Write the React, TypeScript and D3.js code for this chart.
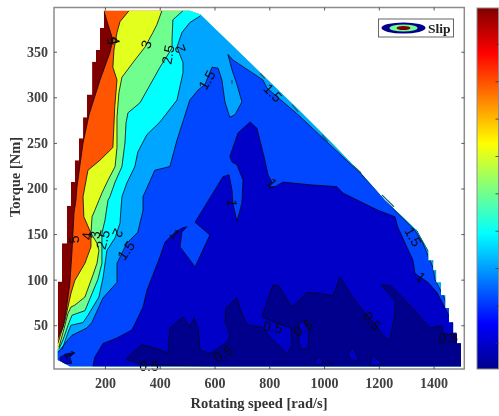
import React, { useEffect, useRef } from "react";
import * as d3 from "d3";

type Pt = [number, number];

const speedTicks = [200, 400, 600, 800, 1000, 1200, 1400];
const torqueTicks = [50, 100, 150, 200, 250, 300, 350];
const colorbarTicks = [0.5, 1, 1.5, 2, 2.5, 3, 3.5, 4, 4.5];

// operating region [rad/s, Nm]
const envelope: Pt[] = [
  [196, 395], [196, 376], [182, 376], [182, 352], [167, 352], [167, 339], [153, 339], [153, 303],
  [134, 303], [134, 278], [120, 278], [120, 255], [105, 255], [105, 231], [90, 231], [90, 207],
  [76, 207], [76, 181], [61, 181], [61, 140], [43, 140], [43, 98], [28, 98], [28, 12], [72, 5],
  [1500, 5], [1500, 30], [1485, 30], [1485, 41], [1471, 41], [1471, 53], [1456, 53], [1456, 69],
  [1442, 69], [1442, 83], [1427, 83], [1427, 97], [1409, 97], [1409, 110], [1398, 110], [1398, 121],
  [1380, 121], [1380, 132], [1339, 154], [1222, 187], [1131, 218], [1011, 255], [901, 288], [784, 322],
  [730, 338], [547, 391], [510, 395],
];

// iso-slip lines [rad/s, Nm]
const slip5: Pt[] = [
  [196, 395], [211, 380], [229, 363], [218, 349], [182, 319], [142, 281], [120, 250], [98, 202], [94, 187],
  [87, 173], [80, 132], [72, 96], [58, 66], [47, 48], [28, 36],
];
const slip4: Pt[] = [
  [288, 395], [255, 383], [244, 371], [233, 352], [229, 333], [244, 319], [236, 290], [229, 245], [182, 231],
  [138, 220], [120, 191], [123, 169], [149, 151], [149, 136], [127, 118], [90, 99], [76, 85], [65, 70],
  [54, 55], [28, 30],
];
const slip3: Pt[] = [
  [408, 395], [390, 380], [375, 371], [346, 355], [302, 338], [262, 322], [251, 305], [244, 278], [244, 245],
  [237, 224], [211, 209], [189, 195], [178, 187], [163, 176], [153, 169], [149, 151], [171, 140], [178, 132],
  [171, 118], [156, 105], [127, 81], [90, 72], [76, 70], [65, 63], [47, 42], [32, 26],
];
const slip25: Pt[] = [
  [485, 395], [448, 385], [445, 363], [445, 354], [401, 333], [328, 294], [284, 283], [277, 272], [273, 250],
  [262, 224], [237, 207], [218, 191], [211, 187], [200, 165], [189, 151], [189, 118], [174, 100], [127, 66],
  [80, 61], [69, 53], [47, 34], [32, 24],
];
const slip2: Pt[] = [
  [547, 389], [510, 382], [481, 371], [463, 355], [485, 338], [485, 327], [463, 297], [401, 273], [353, 259],
  [320, 240], [309, 224], [280, 206], [262, 191], [258, 176], [255, 162], [237, 146], [207, 132], [193, 102],
  [178, 81], [138, 61], [120, 53], [76, 50], [65, 42], [43, 23],
];
const slip15: Pt[] = [
  [28, 20], [65, 34], [80, 39], [134, 47], [152, 53], [193, 80], [226, 91], [244, 97], [244, 118], [280, 140],
  [320, 152], [339, 176], [339, 191], [382, 220], [437, 224], [463, 253], [510, 297], [540, 308], [565, 314],
  [591, 333], [613, 332], [627, 319], [638, 295], [656, 278], [675, 281], [700, 295], [682, 314], [664, 330],
  [649, 347], [667, 341], [777, 319], [792, 310], [905, 281], [1014, 250], [1138, 215], [1259, 176], [1332, 154],
  [1361, 140], [1398, 113], [1405, 100], [1438, 81], [1445, 75],
];
const slip1: Pt[] = [
  [156, 5], [163, 15], [193, 30], [244, 36], [299, 45], [339, 70], [353, 88], [401, 125], [419, 141], [456, 152],
  [485, 157], [499, 158], [481, 152], [474, 136], [529, 114], [583, 149], [529, 163], [631, 213], [653, 215],
  [664, 198], [667, 184], [682, 164], [700, 184], [704, 209], [682, 226], [664, 229], [656, 235], [686, 261],
  [730, 273], [755, 266], [784, 231], [795, 215], [810, 207], [799, 202], [821, 202], [850, 207], [949, 204],
  [1047, 202], [1069, 195], [1197, 176], [1259, 169], [1270, 157], [1325, 121], [1332, 107], [1350, 103],
  [1380, 97], [1412, 86], [1452, 63], [1471, 52], [1485, 42],
];
const slip05: Pt[] = [
  [565, 5], [328, 7], [277, 13], [335, 29], [401, 23], [430, 19], [437, 47], [485, 59], [510, 48], [525, 58],
  [540, 47], [547, 23], [583, 19], [646, 31], [656, 39], [638, 55], [642, 69], [682, 80], [704, 59], [722, 50],
  [748, 49], [773, 48], [802, 37], [865, 19], [883, 28], [879, 47], [839, 51], [773, 59], [813, 94], [832, 94],
  [883, 70], [938, 86], [985, 85], [1033, 82], [1058, 103], [1106, 80], [1142, 66], [1197, 47], [1222, 36],
  [1241, 34], [1259, 63], [1259, 77], [1208, 94], [1241, 94], [1288, 80], [1332, 66], [1387, 47], [1431, 50],
  [1434, 41], [1485, 39], [1500, 28],
];

// small closed patches
const rim2: Pt[] = [[1339, 154], [1360, 143], [1380, 132], [1398, 121], [1409, 110], [1400, 123], [1380, 137], [1360, 147]];
const pocket1: Pt[] = [[36, 15], [61, 19], [90, 20], [72, 15], [79, 8], [54, 8], [36, 12]];
const islands05: Pt[][] = [
  [[908, 52], [930, 55], [945, 45], [941, 25], [919, 23], [908, 31]],
  [[1087, 19], [1106, 26], [1124, 14], [1120, 10], [1095, 13]],
  [[1168, 8], [1179, 17], [1211, 8], [1193, 6], [1168, 6]],
  [[967, 9], [978, 15], [996, 12], [992, 7], [970, 7]],
  [[1003, 8], [1014, 10], [1032, 8], [1014, 7]],
];
const rimTicks: Pt[][] = [
  [[766, 326], [784, 321]],
  [[883, 292], [905, 284]],
  [[992, 259], [1014, 251]],
  [[1106, 225], [1135, 217]],
  [[1211, 193], [1255, 180]],
];
const tongueMark: Pt[] = [[664, 319], [664, 315]];

// contour labels: text, speed, torque, rotation
const labelText = ["5", "4", "3", "2.5", "2", "1.5", "1", "1.5", "1", "1.5", "1", "1.5", "2", "2.5", "3", "4", "5", "1", "1", "0.5", "0.5", "0.5", "0.5", "0.5", "0.5"];
const labelSpeed = [226, 236, 350, 430, 474, 572, 664, 813, 810, 1325, 1354, 277, 247, 193, 163, 134, 87, 456, 72, 361, 631, 813, 923, 1175, 1453];
const labelTorque = [362, 362, 358, 347, 353, 319, 184, 305, 206, 147, 103, 132, 151, 144, 149, 148, 144, 150, 18, 5, 19, 48, 47, 55, 36];
const labelAngle = [-100, 80, -70, -80, -110, -60, 95, 45, 50, 60, 40, -55, 115, -75, -85, -85, -95, 48, 65, 0, -30, 10, -30, 50, -5];

const fillColors = ["#800000", "#ff5500", "#e2ff1d", "#70ff8f", "#00ffff", "#00a5ff", "#0047ff", "#0000c8", "#00008c"];
const jetStops = [
  { o: 0, c: "#800000" },
  { o: 0.125, c: "#ff0000" },
  { o: 0.375, c: "#ffff00" },
  { o: 0.625, c: "#00ffff" },
  { o: 0.875, c: "#0000ff" },
  { o: 1, c: "#00008c" },
];

const App: React.FC = () => {
  const svgRef = useRef<SVGSVGElement | null>(null);

  useEffect(() => {
    const svg = d3.select(svgRef.current);
    svg.selectAll("*").remove();

    const left = 54;
    const right = 464.3;
    const top = 7.5;
    const bottom = 369;

    const x = d3.scaleLinear().domain([14, 1512]).range([left, right]);
    const y = d3.scaleLinear().domain([2, 398.5]).range([bottom, top]);
    const line = d3.line<Pt>().x((d) => x(d[0])).y((d) => y(d[1]));

    const defs = svg.append("defs");
    defs.append("clipPath").attr("id", "region").append("path").attr("d", line(envelope) + "Z");
    const grad = defs
      .append("linearGradient")
      .attr("id", "jet")
      .attr("x1", 0)
      .attr("y1", 0)
      .attr("x2", 0)
      .attr("y2", 1);
    jetStops.forEach((s) => grad.append("stop").attr("offset", s.o).attr("stop-color", s.c));

    // closes an iso line round the low-slip side, the clip trims it to the region
    const fromTop = (iso: Pt[]): Pt[] => {
      const a = iso[0];
      const b = iso[iso.length - 1];
      return [...iso, [0, b[1]], [0, -50], [1700, -50], [1700, 450], [a[0], 450]];
    };
    const fromBottom = (iso: Pt[]): Pt[] => {
      const a = iso[0];
      const b = iso[iso.length - 1];
      return [...iso, [1700, b[1]], [1700, -50], [a[0] === 28 ? 0 : a[0], -50], [a[0] === 28 ? 0 : a[0], a[1]]];
    };

    const plot = svg.append("g").attr("clip-path", "url(#region)");
    plot.append("path").attr("d", line(envelope) + "Z").attr("fill", fillColors[0]);

    const layers: Pt[][] = [
      fromTop(slip5),
      fromTop(slip4),
      fromTop(slip3),
      fromTop(slip25),
      fromTop(slip2),
      fromBottom(slip15),
      fromBottom(slip1),
      fromBottom(slip05),
    ];
    layers.forEach((ring, i) => {
      plot.append("path").attr("d", line(ring) + "Z").attr("fill", fillColors[i + 1]);
    });

    // patches on top
    plot.append("path").attr("d", line(rim2) + "Z").attr("fill", fillColors[4]);
    plot.append("path").attr("d", line(pocket1) + "Z").attr("fill", fillColors[7]);
    islands05.forEach((d) => plot.append("path").attr("d", line(d) + "Z").attr("fill", fillColors[7]));

    // iso lines
    const isoLines = [slip5, slip4, slip3, slip25, slip2, slip15, slip1, slip05];
    isoLines.forEach((d) => {
      plot
        .append("path")
        .attr("d", line(d))
        .attr("fill", "none")
        .attr("stroke", "#06061e")
        .attr("stroke-width", 0.8);
    });
    [...islands05, pocket1, rim2].forEach((d) => {
      plot
        .append("path")
        .attr("d", line(d) + "Z")
        .attr("fill", "none")
        .attr("stroke", "#06061e")
        .attr("stroke-width", 0.8);
    });
    plot
      .append("path")
      .attr("d", line(tongueMark))
      .attr("stroke", "#1a3a6a")
      .attr("stroke-width", 1);
    rimTicks.forEach((d) => {
      svg
        .append("path")
        .attr("d", line(d))
        .attr("fill", "none")
        .attr("stroke", "#1a5a80")
        .attr("stroke-width", 1.3);
    });

    // contour labels
    labelText.forEach((t, i) => {
      const px = x(labelSpeed[i]);
      const py = y(labelTorque[i]);
      svg
        .append("text")
        .attr("transform", `translate(${px},${py}) rotate(${labelAngle[i]})`)
        .attr("text-anchor", "middle")
        .attr("dominant-baseline", "central")
        .attr("font-family", "Liberation Sans")
        .attr("font-size", 14)
        .attr("fill", "#0a0a14")
        .text(t);
    });

    // frame and axes
    svg
      .append("rect")
      .attr("x", left)
      .attr("y", top)
      .attr("width", right - left)
      .attr("height", bottom - top)
      .attr("fill", "none")
      .attr("stroke", "#8c8c8c")
      .attr("stroke-width", 1.5);

    const styleAxis = (g: d3.Selection<SVGGElement, unknown, null, undefined>) => {
      g.select(".domain").remove();
      g.selectAll(".tick line").attr("stroke", "#333").attr("stroke-width", 0.8);
      g.selectAll(".tick text")
        .attr("font-family", "Liberation Serif")
        .attr("font-weight", "bold")
        .attr("font-size", 14)
        .attr("fill", "#404040");
    };

    svg
      .append("g")
      .attr("transform", `translate(0,${bottom})`)
      .call(d3.axisBottom(x).tickValues(speedTicks).tickSize(-3).tickPadding(9).tickFormat(d3.format("d")))
      .call(styleAxis);
    svg
      .append("g")
      .attr("transform", `translate(${left},0)`)
      .call(d3.axisLeft(y).tickValues(torqueTicks).tickSize(-3).tickPadding(6).tickFormat(d3.format("d")))
      .call(styleAxis);
    svg
      .append("g")
      .attr("transform", `translate(0,${top})`)
      .call(d3.axisTop(x).tickValues(speedTicks).tickSize(-3).tickFormat(() => ""))
      .call(styleAxis);
    svg
      .append("g")
      .attr("transform", `translate(${right},0)`)
      .call(d3.axisRight(y).tickValues(torqueTicks).tickSize(-3).tickFormat(() => ""))
      .call(styleAxis);

    svg
      .append("text")
      .attr("x", 259)
      .attr("y", 408)
      .attr("text-anchor", "middle")
      .attr("font-family", "Liberation Serif")
      .attr("font-weight", "bold")
      .attr("font-size", 14.5)
      .attr("fill", "#333")
      .text("Rotating speed [rad/s]");
    svg
      .append("text")
      .attr("transform", "translate(20,177) rotate(-90)")
      .attr("text-anchor", "middle")
      .attr("font-family", "Liberation Serif")
      .attr("font-weight", "bold")
      .attr("font-size", 14.5)
      .attr("fill", "#333")
      .text("Torque [Nm]");

    // colour bar
    const cbar = d3.scaleLinear().domain([0.15, 4.98]).range([369, 8]);
    svg
      .append("rect")
      .attr("x", 477)
      .attr("y", 8)
      .attr("width", 21.5)
      .attr("height", 361)
      .attr("fill", "url(#jet)")
      .attr("stroke", "#8c8c8c")
      .attr("stroke-width", 1);
    svg
      .append("g")
      .attr("transform", "translate(498.5,0)")
      .call(d3.axisRight(cbar).tickValues(colorbarTicks).tickSize(-3).tickFormat(() => ""))
      .call(styleAxis);

    // legend
    const legend = svg.append("g");
    legend
      .append("rect")
      .attr("x", 378.5)
      .attr("y", 19)
      .attr("width", 75)
      .attr("height", 18)
      .attr("fill", "#fff")
      .attr("stroke", "#666")
      .attr("stroke-width", 1);
    const swatchRx = [22, 14, 7];
    const swatchRy = [5.5, 3.6, 2];
    const swatchFill = [fillColors[8], fillColors[3], fillColors[0]];
    swatchRx.forEach((rx, i) => {
      legend
        .append("ellipse")
        .attr("cx", 403.5)
        .attr("cy", 28)
        .attr("rx", rx)
        .attr("ry", swatchRy[i])
        .attr("fill", swatchFill[i]);
    });
    legend
      .append("text")
      .attr("x", 428)
      .attr("y", 33)
      .attr("font-family", "Liberation Serif")
      .attr("font-weight", "bold")
      .attr("font-size", 13.5)
      .attr("fill", "#222")
      .text("Slip");
  }, []);

  return (
    <svg
      ref={svgRef}
      width={499}
      height={416}
      style={{ position: "absolute", left: 0, top: 0, background: "#fff", filter: "blur(0.35px)" }}
    ></svg>
  );
};

export default App;
